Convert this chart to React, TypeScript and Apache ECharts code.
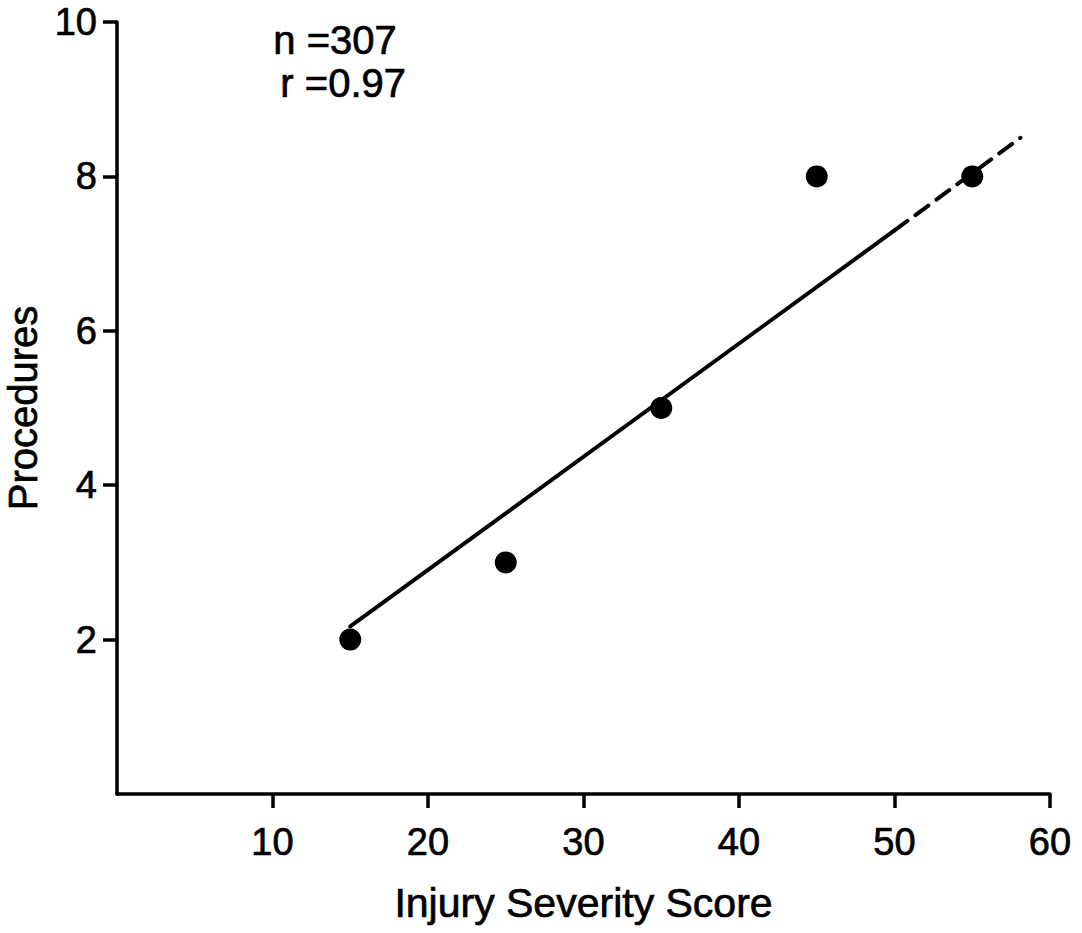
import React, { useEffect, useRef } from "react";
import * as echarts from "echarts";

const injuryScore = [15, 25, 35, 45, 55];
const procedures = [2, 3, 5, 8, 8];
const fitSolidX = [15, 50];
const fitSolidY = [2.17, 7.3];
const fitDashX = [50, 58.1];
const fitDashY = [7.3, 8.5];
const xTicks = [10, 20, 30, 40, 50, 60];
const yTicks = [2, 4, 6, 8, 10];
const annotations = ["n =307", "r =0.97"];

const FONT = "Liberation Sans, Arial, Helvetica, sans-serif";
const INK = "#000000";

export default function App() {
  const ref = useRef<HTMLDivElement>(null);
  useEffect(() => {
    if (!ref.current) return;
    const chart = echarts.init(ref.current, null, { renderer: "svg" });
    const textThick = { textBorderColor: INK, textBorderWidth: 0.7 };
    const option = {
      animation: false,
      backgroundColor: "#ffffff",
      grid: { left: 117, right: 32, top: 22, bottom: 139, containLabel: false, outerBoundsMode: "none" },
      xAxis: {
        type: "value",
        min: 0,
        max: 60,
        interval: 10,
        name: "Injury Severity Score",
        nameLocation: "middle",
        nameGap: 88,
        nameTextStyle: { fontFamily: FONT, fontSize: 41, color: INK, ...textThick },
        axisLine: { show: true, lineStyle: { color: INK, width: 3.5 } },
        axisTick: { show: true, customValues: xTicks, length: 14, inside: false, lineStyle: { color: INK, width: 3.5 } },
        axisLabel: { customValues: xTicks, margin: 29, fontFamily: FONT, fontSize: 38, color: INK, ...textThick },
        splitLine: { show: false },
      },
      yAxis: {
        type: "value",
        min: 0,
        max: 10,
        interval: 2,
        name: "Procedures",
        nameLocation: "middle",
        nameGap: 71,
        nameRotate: 90,
        nameTextStyle: { fontFamily: FONT, fontSize: 40, color: INK, ...textThick },
        axisLine: { show: true, lineStyle: { color: INK, width: 3.5 } },
        axisTick: { show: true, customValues: yTicks, length: 14, inside: false, lineStyle: { color: INK, width: 3.5 } },
        axisLabel: { customValues: yTicks, margin: 20, fontFamily: FONT, fontSize: 38, color: INK, ...textThick },
        splitLine: { show: false },
      },
      series: [
        {
          type: "line",
          data: fitSolidX.map((x, i) => [x, fitSolidY[i]]),
          symbol: "none",
          lineStyle: { color: INK, width: 4, cap: "round" },
          z: 2,
        },
        {
          type: "line",
          data: fitDashX.map((x, i) => [x, fitDashY[i]]),
          symbol: "none",
          lineStyle: { color: INK, width: 4, type: [16, 10], cap: "round" },
          z: 2,
        },
        {
          type: "scatter",
          data: injuryScore.map((x, i) => [x, procedures[i]]),
          symbol: "circle",
          symbolSize: 22,
          itemStyle: { color: INK, opacity: 1 },
          z: 3,
        },
      ],
      graphic: [
        {
          type: "text",
          left: 273,
          top: 20,
          style: { text: annotations[0], font: `40px ${FONT}`, fill: INK, stroke: INK, lineWidth: 0.7 },
        },
        {
          type: "text",
          left: 280,
          top: 63,
          style: { text: annotations[1], font: `40px ${FONT}`, fill: INK, stroke: INK, lineWidth: 0.7 },
        },
      ],
    };
    chart.setOption(option as any);
    return () => chart.dispose();
  }, []);
  return (
    <div
      ref={ref}
      style={{ position: "fixed", left: 0, top: 0, width: 1082, height: 933, background: "#fff" }}
    />
  );
}
